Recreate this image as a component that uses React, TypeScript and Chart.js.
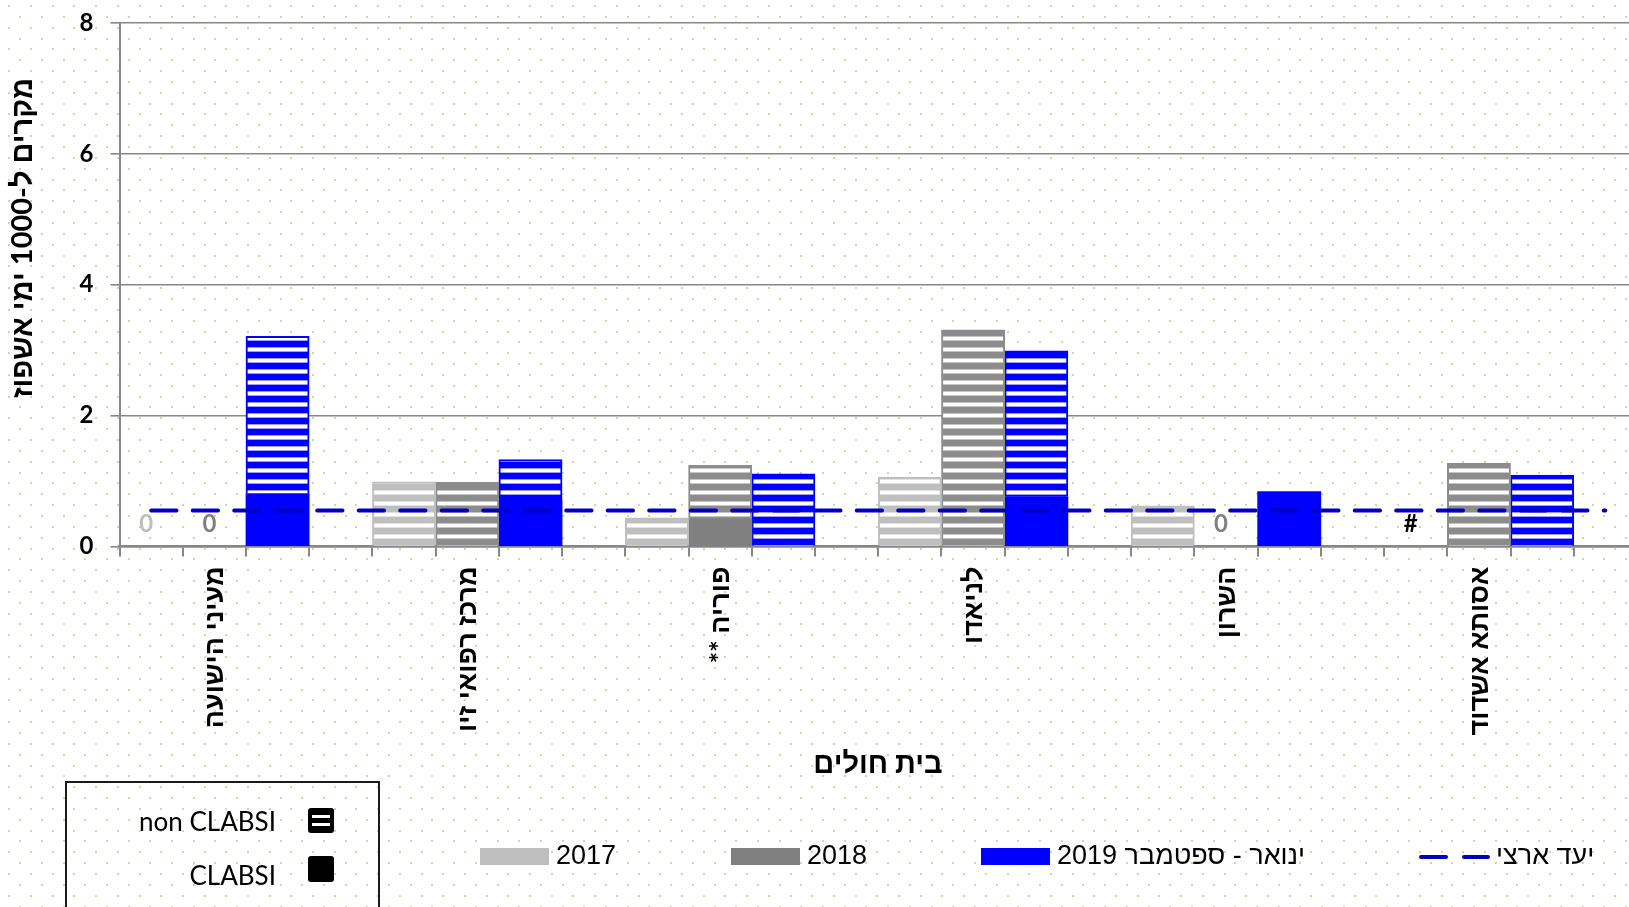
import React, { useEffect, useRef } from 'react';
import { Chart, registerables } from 'chart.js';

Chart.register(...registerables);

// ---------- data ----------
const hospitals = ['מעיני הישועה', 'מרכז רפואי זיו', 'פוריה **', 'לניאדו', 'השרון', 'אסותא אשדוד'];
const yearLabels = ['2017', '2018', 'ינואר - ספטמבר 2019'];
const clabsi2017 = [0, 0, 0, 0, 0, 0];
const nonClabsi2017 = [0, 0.99, 0.44, 1.06, 0.62, 0];
const clabsi2018 = [0, 0, 0.42, 0, 0, 0];
const nonClabsi2018 = [0, 0.98, 0.82, 3.31, 0, 1.27];
const clabsi2019 = [0.81, 0.71, 0, 0.76, 0.84, 0];
const nonClabsi2019 = [2.4, 0.62, 1.11, 2.23, 0, 1.09];
const nationalTarget = 0.55;
const valueLabels2017 = ['0', '', '', '', '', '#'];
const valueLabels2018 = ['0', '', '', '', '0', ''];
const valueLabels2019 = ['', '', '', '', '', ''];
const yTicks = [0, 2, 4, 6, 8];
const targetLabel = 'יעד ארצי';
const typeLabels = ['non CLABSI', 'CLABSI'];
const xTitle = 'בית חולים';
const yTitle = 'מקרים ל-1000 ימי אשפוז';

// ---------- styles ----------
const C2017 = '#bfbfbf';
const C2018 = '#808080';
const C2018S = '#8c8c8c';
const C2019 = '#0000ff';
const CTARGET = '#0000c0';
const GRID = '#878787';
const LATO = 'Lato, "Liberation Sans", sans-serif';
const ARIAL = '"Liberation Sans", Arial, sans-serif';

const SLOTS = 4; // 3 years + gap per hospital
const slotCount = hospitals.length * SLOTS;
const slotLabels = Array.from({ length: slotCount }, (_, i) => (i % SLOTS === 1 ? hospitals[(i - 1) / SLOTS] : ''));

function spread(vals: number[], yearIdx: number) {
  const out: (number | null)[] = new Array(slotCount).fill(null);
  vals.forEach((v, h) => {
    out[h * SLOTS + yearIdx] = v ? v : null;
  });
  return out;
}

function stripes(color: string, light: string) {
  const c = document.createElement('canvas');
  c.width = 8;
  c.height = 11;
  const g = c.getContext('2d')!;
  g.fillStyle = '#ffffff';
  g.fillRect(0, 0, 8, 11);
  g.fillStyle = color;
  g.fillRect(0, 0, 8, 6);
  g.fillStyle = light;
  g.fillRect(0, 6, 8, 1);
  g.fillRect(0, 10, 8, 1);
  return g.createPattern(c, 'repeat')!;
}

const decorPlugin = {
  id: 'decor',
  beforeDraw(chart: any) {
    const ctx = chart.ctx as CanvasRenderingContext2D;
    const w = chart.width;
    const h = chart.height;
    (ctx as any).direction = 'rtl';
    ctx.save();
    ctx.fillStyle = '#ffffff';
    ctx.fillRect(0, 0, w, h);
    ctx.fillStyle = '#c9dca6';
    const px = 21.7;
    const py = 10.85;
    let r = 0;
    for (let y = 6; y < h; y += py, r++) {
      const off = r % 2 ? px / 2 : 0;
      for (let x = 9.3 + off; x < w; x += px) {
        ctx.fillRect(Math.round(x) - 1, Math.round(y) - 1, 2, 2);
      }
    }
    ctx.restore();
  },
  afterDatasetsDraw(chart: any) {
    const ctx = chart.ctx as CanvasRenderingContext2D;
    const xs = chart.scales.x;
    const ys = chart.scales.y;
    ctx.save();
    ctx.font = `bold 24px ${LATO}`;
    ctx.textAlign = 'center';
    ctx.textBaseline = 'middle';
    const groups = [
      { labels: valueLabels2017, color: C2017, idx: 0 },
      { labels: valueLabels2018, color: C2018, idx: 1 },
      { labels: valueLabels2019, color: C2019, idx: 2 },
    ];
    groups.forEach((g) => {
      g.labels.forEach((t, h) => {
        if (!t) return;
        const x = xs.getPixelForValue(h * SLOTS + g.idx) - 5;
        const y = ys.getPixelForValue(0) - 22;
        ctx.fillStyle = t === '#' ? '#000000' : g.color;
        ctx.fillText(t, x, y);
      });
    });
    ctx.restore();
  },
  afterDraw(chart: any) {
    const ctx = chart.ctx as CanvasRenderingContext2D;
    ctx.save();
    ctx.fillStyle = '#000000';
    // y title
    ctx.save();
    ctx.translate(23, 238);
    ctx.rotate(-Math.PI / 2);
    ctx.font = `bold 29px ${LATO}`;
    ctx.textAlign = 'center';
    ctx.textBaseline = 'middle';
    ctx.fillText(yTitle, 0, 0);
    ctx.restore();
    // x title
    ctx.font = `bold 29px ${LATO}`;
    ctx.textAlign = 'center';
    ctx.textBaseline = 'middle';
    ctx.fillText(xTitle, 878, 764);

    // type legend box
    ctx.strokeStyle = '#1a1a1a';
    ctx.lineWidth = 2;
    ctx.strokeRect(66, 782, 313, 200);
    ctx.font = `26px ${LATO}`;
    ctx.textAlign = 'right';
    ctx.fillStyle = '#000000';
    ctx.fillText(typeLabels[0], 276, 823);
    ctx.fillText(typeLabels[1], 276, 877);
    const rr = (x: number, y: number, w: number, h: number, r: number) => {
      ctx.beginPath();
      ctx.moveTo(x + r, y);
      ctx.arcTo(x + w, y, x + w, y + h, r);
      ctx.arcTo(x + w, y + h, x, y + h, r);
      ctx.arcTo(x, y + h, x, y, r);
      ctx.arcTo(x, y, x + w, y, r);
      ctx.closePath();
      ctx.fill();
    };
    ctx.fillStyle = '#000000';
    rr(308, 808, 26, 25, 3);
    ctx.fillStyle = '#ffffff';
    ctx.fillRect(312, 815, 18, 3);
    ctx.fillRect(312, 823, 18, 3);
    ctx.fillStyle = '#000000';
    rr(308, 856, 26, 26, 3);

    // series legend
    const sw = [
      { x: 480, c: C2017 },
      { x: 731, c: C2018 },
      { x: 981, c: C2019 },
    ];
    ctx.font = `27px ${ARIAL}`;
    ctx.textAlign = 'left';
    ctx.textBaseline = 'middle';
    sw.forEach((s, i) => {
      ctx.fillStyle = s.c;
      ctx.fillRect(s.x, 848, 69, 17);
      ctx.fillStyle = '#000000';
      ctx.fillText(yearLabels[i], s.x + 76, 857);
    });
    ctx.strokeStyle = CTARGET;
    ctx.lineWidth = 4;
    ctx.lineCap = 'round';
    ctx.beginPath();
    ctx.moveTo(1421, 857);
    ctx.lineTo(1446, 857);
    ctx.moveTo(1464, 857);
    ctx.lineTo(1488, 857);
    ctx.stroke();
    ctx.fillStyle = '#000000';
    ctx.fillText(targetLabel, 1496, 857);
    ctx.restore();
  },
};

export default function App() {
  const ref = useRef<HTMLCanvasElement | null>(null);
  useEffect(() => {
    if (!ref.current) return;
    const bar = (label: string, data: (number | null)[], bg: any, border: string, bw: number) => ({
      type: 'bar' as const,
      label,
      data,
      backgroundColor: bg,
      borderColor: border,
      borderWidth: bw,
      borderSkipped: 'bottom' as const,
      stack: 'bars',
      order: 1,
      barPercentage: 1,
      categoryPercentage: 1,
    });
    const chart = new Chart(ref.current, {
      type: 'bar',
      data: {
        labels: slotLabels,
        datasets: [
          bar('CLABSI 2017', spread(clabsi2017, 0), C2017, C2017, 0),
          bar('non CLABSI 2017', spread(nonClabsi2017, 0), stripes(C2017, '#e2e2e2'), C2017, 2),
          bar('CLABSI 2018', spread(clabsi2018, 1), C2018, C2018, 0),
          bar('non CLABSI 2018', spread(nonClabsi2018, 1), stripes(C2018S, '#c6c6c6'), C2018S, 2),
          bar('CLABSI 2019', spread(clabsi2019, 2), C2019, C2019, 0),
          bar('non CLABSI 2019', spread(nonClabsi2019, 2), stripes(C2019, '#9a9aff'), C2019, 2),
          {
            type: 'line' as const,
            label: targetLabel,
            data: slotLabels.map(() => nationalTarget),
            borderColor: CTARGET,
            borderWidth: 3.8,
            borderDash: [25.5, 16],
            borderCapStyle: 'round' as const,
            pointRadius: 0,
            fill: false,
            stack: 'target',
            order: 0,
          } as any,
        ],
      },
      options: {
        animation: false,
        responsive: false,
        maintainAspectRatio: false,
        devicePixelRatio: 1,
        layout: { padding: { left: 0, right: 3, top: 20.5, bottom: 0 } },
        plugins: { legend: { display: false }, tooltip: { enabled: false } },
        scales: {
          x: {
            stacked: true,
            offset: true,
            grid: {
              display: true,
              drawOnChartArea: false,
              drawTicks: true,
              tickLength: 10,
              color: GRID,
              lineWidth: 2,
              offset: true,
            },
            border: { display: true, color: GRID, width: 2.5 },
            ticks: {
              autoSkip: false,
              minRotation: 90,
              maxRotation: 90,
              padding: 10,
              color: '#000000',
              font: { family: LATO, size: 27, weight: 'bold', lineHeight: 0.8 },
            },
            afterFit: (s: any) => {
              s.height = 907 - 546.5;
            },
          },
          y: {
            stacked: true,
            min: 0,
            max: 8,
            afterBuildTicks: (s: any) => {
              s.ticks = yTicks.map((v) => ({ value: v }));
            },
            grid: { color: GRID, lineWidth: 1.6, tickLength: 9, drawTicks: true },
            border: { display: true, color: GRID, width: 2 },
            ticks: {
              padding: 17,
              color: '#000000',
              font: { family: LATO, size: 24, weight: 'bold', lineHeight: 0.5 },
            },
            afterFit: (s: any) => {
              s.width = 119.5;
            },
          },
        },
      },
      plugins: [decorPlugin],
    } as any);
    return () => chart.destroy();
  }, []);
  return (
    <div
      style={{
        position: 'fixed',
        left: 0,
        top: 0,
        width: 1629,
        height: 907,
        overflow: 'hidden',
        background: '#ffffff',
      }}
    >
      <canvas ref={ref} width={1640} height={907} style={{ display: 'block', direction: 'rtl' }} />
    </div>
  );
}
